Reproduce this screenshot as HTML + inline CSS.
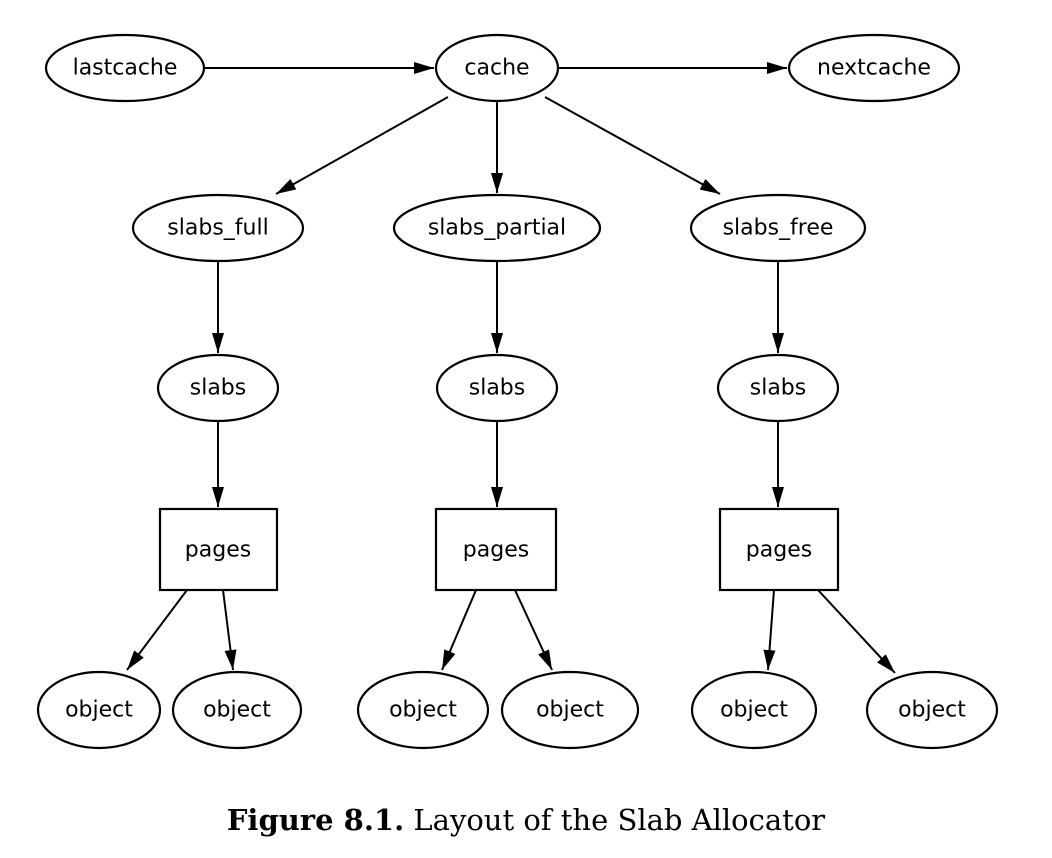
<!DOCTYPE html>
<html><head><meta charset="utf-8"><style>
html,body{margin:0;padding:0;background:#fff;}
svg{display:block;}
text{font-family:"DejaVu Sans","Liberation Sans",sans-serif;font-size:22px;text-anchor:middle;dominant-baseline:central;}
</style></head><body>
<svg width="1052" height="858" viewBox="0 0 1052 858" xmlns="http://www.w3.org/2000/svg">
<defs><marker id="a" markerWidth="10" markerHeight="8" refX="10" refY="4" orient="auto" markerUnits="userSpaceOnUse" viewBox="0 0 10 8"><path d="M0,0 L10,4 L0,8 z" fill="#000"/></marker>
<marker id="b" viewBox="0 0 20 12" refX="20" refY="6" markerWidth="20" markerHeight="12" orient="auto" markerUnits="userSpaceOnUse"><path d="M0,0 L20,6 L0,12 z" fill="#000"/></marker></defs>
<g fill="none" stroke="#000" stroke-width="2.2">
<ellipse cx="125" cy="68" rx="79" ry="33"/>
<ellipse cx="497" cy="68" rx="61" ry="33"/>
<ellipse cx="874" cy="68" rx="85" ry="33"/>
<ellipse cx="218" cy="228" rx="85" ry="33"/>
<ellipse cx="497" cy="228" rx="103" ry="33"/>
<ellipse cx="778" cy="228" rx="87" ry="33"/>
<ellipse cx="218" cy="388" rx="60" ry="33"/>
<ellipse cx="497" cy="388" rx="60" ry="33"/>
<ellipse cx="778" cy="388" rx="60" ry="33"/>
<rect x="160" y="509" width="117" height="81"/>
<rect x="436" y="509" width="120" height="81"/>
<rect x="720" y="509" width="118" height="81"/>
<ellipse cx="99" cy="710" rx="61" ry="38"/>
<ellipse cx="237" cy="710" rx="64" ry="38"/>
<ellipse cx="423" cy="710" rx="65" ry="38"/>
<ellipse cx="570" cy="710" rx="68" ry="38"/>
<ellipse cx="754" cy="710" rx="62" ry="38"/>
<ellipse cx="932" cy="710" rx="65" ry="38"/>
</g>
<g stroke="#000" stroke-width="2" marker-end="url(#b)">
<line x1="204" y1="68" x2="434" y2="68"/>
<line x1="558" y1="68" x2="787" y2="68"/>
<line x1="448" y1="97" x2="276" y2="194"/>
<line x1="497" y1="101" x2="497" y2="193"/>
<line x1="545" y1="97" x2="720" y2="194"/>
<line x1="218" y1="261" x2="218" y2="353"/>
<line x1="497" y1="261" x2="497" y2="353"/>
<line x1="778" y1="261" x2="778" y2="353"/>
<line x1="218" y1="421" x2="218" y2="507"/>
<line x1="497" y1="421" x2="497" y2="507"/>
<line x1="778" y1="421" x2="778" y2="507"/>
<line x1="187" y1="590" x2="127" y2="670"/>
<line x1="223" y1="590" x2="233" y2="670"/>
<line x1="476" y1="590" x2="442" y2="670"/>
<line x1="515" y1="590" x2="552" y2="670"/>
<line x1="774" y1="590" x2="768" y2="670"/>
<line x1="818" y1="590" x2="895" y2="673"/>
</g>
<text x="125" y="68">lastcache</text>
<text x="497" y="68">cache</text>
<text x="874" y="68">nextcache</text>
<text x="218" y="228">slabs_full</text>
<text x="497" y="228">slabs_partial</text>
<text x="778" y="228">slabs_free</text>
<text x="218" y="388">slabs</text>
<text x="497" y="388">slabs</text>
<text x="778" y="388">slabs</text>
<text x="218" y="550">pages</text>
<text x="496" y="550">pages</text>
<text x="779" y="550">pages</text>
<text x="99" y="710">object</text>
<text x="237" y="710">object</text>
<text x="423" y="710">object</text>
<text x="570" y="710">object</text>
<text x="754" y="710">object</text>
<text x="932" y="710">object</text>
<text x="526" y="820" style="font-family:'DejaVu Serif','Liberation Serif',serif;font-size:29px"><tspan font-weight="bold">Figure 8.1.</tspan> Layout of the Slab Allocator</text>
</svg>
</body></html>
